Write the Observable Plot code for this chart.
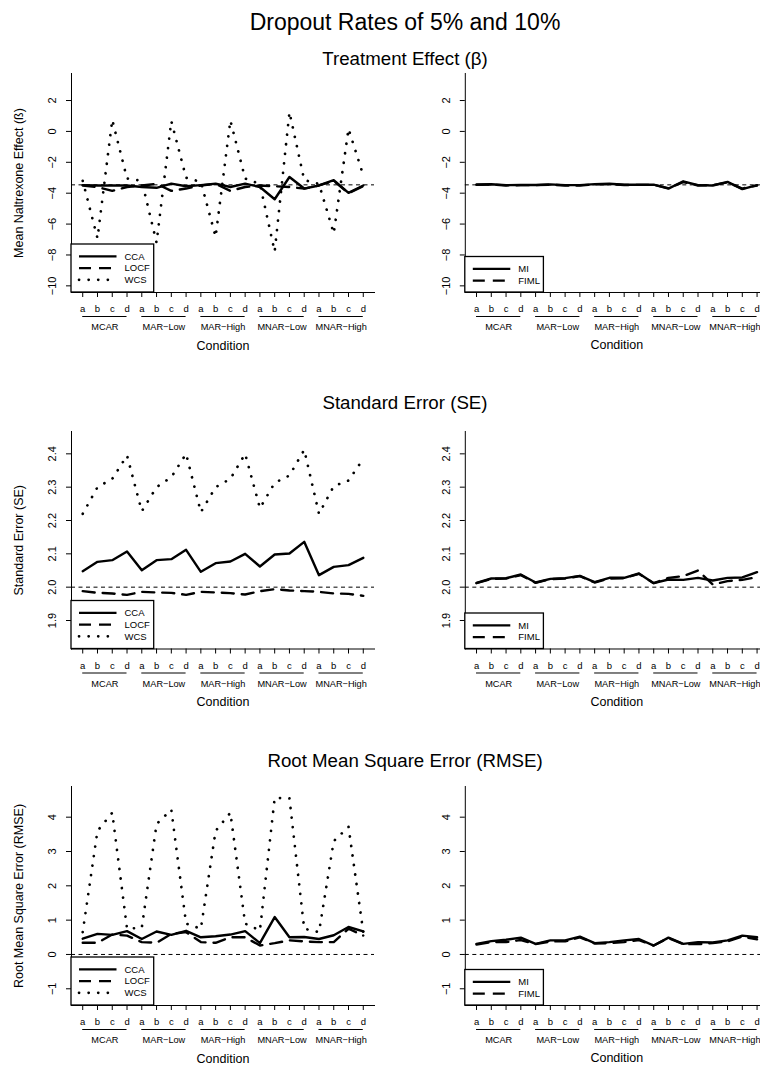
<!DOCTYPE html>
<html><head><meta charset="utf-8">
<script src="https://cdn.jsdelivr.net/npm/d3@7"></script>
<script src="https://cdn.jsdelivr.net/npm/@observablehq/plot@0.6"></script>
<style>
body{margin:0;background:#fff;}
#root{position:relative;width:760px;height:1066px;overflow:hidden;font-family:"Liberation Sans",Arial,Helvetica,sans-serif;background:#fff;}
#root > svg{position:absolute;}
</style></head><body><div id="root"></div>
<script>
// ---------- data ----------
const conditions = ["MCAR", "MAR\u2212Low", "MAR\u2212High", "MNAR\u2212Low", "MNAR\u2212High"];
const levels = ["a", "b", "c", "d"];
const mainTitle = "Dropout Rates of 5% and 10%";
const panelTitles = ["Treatment Effect (\u03B2)", "Standard Error (SE)", "Root Mean Square Error (RMSE)"];
const yLabels = ["Mean Naltrexone Effect (\u00DF)", "Standard Error (SE)", "Root Mean Square Error (RMSE)"];
const leftMethods = ["CCA", "LOCF", "WCS"];
const rightMethods = ["MI", "FIML"];

const betaTicks = [-10, -8, -6, -4, -2, 0, 2];
const seTicks = [1.9, 2.0, 2.1, 2.2, 2.3, 2.4];
const rmseTicks = [-1, 0, 1, 2, 3, 4];
const refValues = [-3.46, 2.0, 0];

const ccaBeta  = [-3.48,-3.5,-3.5,-3.5, -3.6,-3.65,-3.38,-3.55, -3.48,-3.38,-3.6,-3.38, -3.6,-4.39,-2.95,-3.7, -3.5,-3.16,-3.98,-3.5];
const locfBeta = [-3.5,-3.6,-3.85,-3.6, -3.5,-3.4,-3.85,-3.7, -3.5,-3.4,-3.85,-3.6, -3.5,-3.55,-3.6,-3.7, -3.5,-3.2,-4.0,-3.55];
const wcsBeta  = [-3.2,-6.92,0.75,-3.05, -3.2,-7.2,0.67,-3.0, -3.27,-6.82,0.71,-3.05, -3.4,-7.78,1.25,-3.15, -3.4,-6.6,0.17,-2.85];
const miBeta   = [-3.44,-3.42,-3.48,-3.47, -3.47,-3.43,-3.48,-3.48, -3.41,-3.39,-3.45,-3.45, -3.45,-3.7,-3.23,-3.48, -3.5,-3.27,-3.74,-3.48];
const fimlBeta = [-3.46,-3.44,-3.5,-3.48, -3.48,-3.45,-3.5,-3.5, -3.43,-3.41,-3.47,-3.46, -3.46,-3.68,-3.28,-3.5, -3.48,-3.3,-3.7,-3.5];

const ccaSE  = [2.048,2.076,2.081,2.107, 2.051,2.081,2.084,2.112, 2.046,2.072,2.077,2.100, 2.062,2.098,2.101,2.136, 2.036,2.061,2.066,2.088];
const locfSE = [1.988,1.983,1.981,1.977, 1.986,1.984,1.983,1.977, 1.986,1.984,1.982,1.978, 1.988,1.994,1.990,1.988, 1.986,1.981,1.980,1.974];
const wcsSE  = [2.220,2.300,2.325,2.395, 2.228,2.300,2.330,2.400, 2.225,2.300,2.325,2.400, 2.237,2.313,2.335,2.412, 2.220,2.303,2.320,2.385];
const miSE   = [2.013,2.026,2.027,2.038, 2.014,2.025,2.027,2.034, 2.015,2.028,2.028,2.041, 2.012,2.023,2.022,2.028, 2.020,2.028,2.029,2.045];
const fimlSE = [2.012,2.025,2.026,2.036, 2.013,2.024,2.026,2.033, 2.014,2.026,2.027,2.040, 2.012,2.028,2.033,2.050, 2.008,2.018,2.022,2.030];

const ccaRMSE  = [0.46,0.60,0.57,0.68, 0.45,0.67,0.57,0.69, 0.50,0.53,0.58,0.68, 0.33,1.09,0.50,0.51, 0.45,0.56,0.80,0.67];
const locfRMSE = [0.34,0.34,0.58,0.55, 0.36,0.34,0.60,0.65, 0.36,0.34,0.50,0.50, 0.26,0.33,0.41,0.38, 0.36,0.36,0.75,0.55];
const wcsRMSE  = [0.65,3.60,4.13,0.75, 0.78,3.80,4.22,0.90, 0.75,3.60,4.13,0.90, 0.70,4.56,4.55,0.75, 0.65,3.30,3.72,0.65];
const miRMSE   = [0.31,0.39,0.43,0.49, 0.31,0.41,0.41,0.52, 0.33,0.36,0.41,0.45, 0.26,0.49,0.31,0.36, 0.35,0.41,0.55,0.50];
const fimlRMSE = [0.29,0.36,0.36,0.42, 0.30,0.38,0.38,0.50, 0.32,0.33,0.36,0.42, 0.26,0.48,0.30,0.30, 0.33,0.38,0.52,0.44];

// ---------- layout ----------
const FONT = '"Liberation Sans", Arial, Helvetica, sans-serif';
const styles = {
  CCA:  {strokeWidth: 2.4, strokeDasharray: null},
  LOCF: {strokeWidth: 2.4, strokeDasharray: "12,8"},
  WCS:  {strokeWidth: 2.7, strokeDasharray: "0.1,9.5", strokeLinecap: "round"},
  MI:   {strokeWidth: 2.4, strokeDasharray: null},
  FIML: {strokeWidth: 2.4, strokeDasharray: "12,8"}
};
const rows = [
  {frameTop: 73,  frameH: 219, domain: [-10.43, 3.75], ticks: betaTicks, fmt: d => d < 0 ? "\u2212" + Math.abs(d) : String(d),
   left: {CCA: ccaBeta, LOCF: locfBeta, WCS: wcsBeta}, right: {MI: miBeta, FIML: fimlBeta}},
  {frameTop: 431, frameH: 217.5, domain: [1.8145, 2.467], ticks: seTicks, fmt: d => d.toFixed(1),
   left: {CCA: ccaSE, LOCF: locfSE, WCS: wcsSE}, right: {MI: miSE, FIML: fimlSE}},
  {frameTop: 786, frameH: 219, domain: [-1.487, 4.894], ticks: rmseTicks, fmt: d => d < 0 ? "\u2212" + Math.abs(d) : String(d),
   left: {CCA: ccaRMSE, LOCF: locfRMSE, WCS: wcsRMSE}, right: {MI: miRMSE, FIML: fimlRMSE}}
];
const titleBaselines = [65, 409, 767];
const cols = [{svgLeft: 0, axisX: 71}, {svgLeft: 380, axisX: 464.8}];
const xDomain = [0.24, 20.76];
const FRAME_W = 303;
const MT = 10, MB = 72;

const idx = d3.range(1, 21);
const tickRows = idx.map(i => ({i, letter: levels[(i - 1) % 4]}));
const groups = conditions.map((name, g) => ({name, start: g * 4 + 1, end: g * 4 + 4}));

const root = document.getElementById("root");

rows.forEach((row, r) => {
  cols.forEach((col, c) => {
    const series = c === 0 ? row.left : row.right;
    const ymin = row.domain[0];
    const marginLeft = col.axisX - col.svgLeft;
    const lineMarks = Object.entries(series).map(([method, vals]) =>
      Plot.line(vals.map((v, k) => ({i: k + 1, v, method})), {
        x: "i", y: "v", stroke: "black", strokeLinejoin: "round", ...styles[method]
      })
    );
    const marks = [
      Plot.ruleY([refValues[r]], {stroke: "black", strokeWidth: 1, strokeDasharray: "4,3.5"}),
      ...lineMarks,
      Plot.text(row.ticks, {x: () => xDomain[0], y: d => d, text: row.fmt, rotate: -90, dx: -19, fontSize: 11, lineAnchor: "middle", textAnchor: "middle"}),
      Plot.text(tickRows, {x: "i", y: () => ymin, text: "letter", dy: 16.5, fontSize: 9.5}),
      Plot.ruleY(groups, {x1: "start", x2: "end", y: () => ymin, dy: 24, stroke: "black", strokeWidth: 1}),
      Plot.text(groups, {x: g => (g.start + g.end) / 2, y: () => ymin, dy: 35, text: "name", fontSize: 9.2}),
      Plot.text(["Condition"], {x: () => 10.5, y: () => ymin, dy: 53, text: d => d, fontSize: 12.5})
    ];
    if (c === 0) {
      marks.push(Plot.text([yLabels[r]], {x: () => xDomain[0], y: () => (row.domain[0] + row.domain[1]) / 2,
        text: d => d, rotate: -90, dx: -(col.axisX - 18.5), fontSize: 12.5}));
    }
    const svg = Plot.plot({
      width: marginLeft + FRAME_W + 8,
      height: MT + row.frameH + MB,
      marginLeft, marginRight: 8, marginTop: MT, marginBottom: MB,
      style: {fontFamily: FONT, fontSize: "9.5px", color: "black", background: "transparent", overflow: "visible"},
      x: {domain: xDomain, ticks: idx, tickSize: 5, tickFormat: () => "", line: true, label: null},
      y: {domain: row.domain, ticks: row.ticks, tickSize: 5, tickFormat: () => "", line: true, label: null},
      marks
    });
    svg.style.left = col.svgLeft + "px";
    svg.style.top = (row.frameTop - MT) + "px";
    root.appendChild(svg);
  });
});

// ---------- titles & legends overlay ----------
const overlay = d3.select(root).append("svg")
  .attr("width", 760).attr("height", 1066)
  .style("left", "0px").style("top", "0px")
  .style("font-family", FONT);

overlay.append("text").attr("x", 405).attr("y", 30).attr("text-anchor", "middle")
  .attr("font-size", 23).text(mainTitle);
panelTitles.forEach((t, r) => {
  overlay.append("text").attr("x", 405).attr("y", titleBaselines[r]).attr("text-anchor", "middle")
    .attr("font-size", 18.7).text(t);
});

rows.forEach((row, r) => {
  const bottom = row.frameTop + row.frameH;
  cols.forEach((col, c) => {
    const methods = c === 0 ? leftMethods : rightMethods;
    const w = c === 0 ? 82.7 : 78.6;
    const h = c === 0 ? 48 : 35.5;
    const g = overlay.append("g").attr("transform", `translate(${col.axisX},${bottom - h})`);
    g.append("rect").attr("x", 0).attr("y", 0).attr("width", w).attr("height", h)
      .attr("fill", "white").attr("stroke", "black").attr("stroke-width", 1.3);
    methods.forEach((m, k) => {
      const y = 12.4 + k * 11.7;
      const st = styles[m];
      g.append("line").attr("x1", 8).attr("x2", 45.5).attr("y1", y).attr("y2", y)
        .attr("stroke", "black").attr("stroke-width", st.strokeWidth)
        .attr("stroke-dasharray", st.strokeDasharray)
        .attr("stroke-linecap", st.strokeLinecap || "butt");
      g.append("text").attr("x", 53.5).attr("y", y).attr("dy", "0.35em")
        .attr("font-size", 9.5).text(m);
    });
  });
});
</script></body></html>
